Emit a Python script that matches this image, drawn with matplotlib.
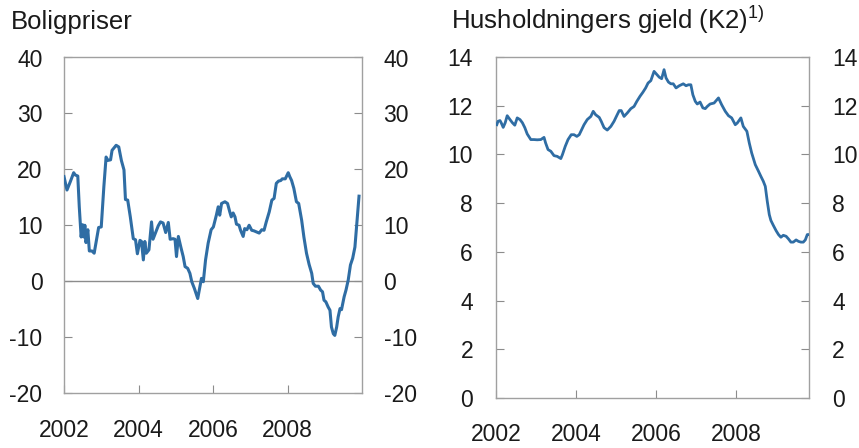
import matplotlib
matplotlib.use("Agg")
import matplotlib.pyplot as plt

plt.rcParams['font.family'] = ['Liberation Sans', 'DejaVu Sans']
plt.rcParams['axes.unicode_minus'] = False

# Boligpriser, tolvmånedersvekst (prosent)
bolig_t = [2002.00, 2002.08, 2002.17, 2002.26, 2002.30, 2002.37, 2002.41, 2002.46,
           2002.50, 2002.53, 2002.56, 2002.59, 2002.64, 2002.68, 2002.75, 2002.81,
           2002.93, 2003.00, 2003.07, 2003.13, 2003.18, 2003.25, 2003.29, 2003.40,
           2003.47, 2003.54, 2003.61, 2003.65, 2003.71, 2003.78, 2003.86, 2003.92,
           2003.97, 2004.04, 2004.08, 2004.13, 2004.17, 2004.21, 2004.28, 2004.35,
           2004.39, 2004.46, 2004.53, 2004.59, 2004.66, 2004.73, 2004.80, 2004.85,
           2004.93, 2004.98, 2005.02, 2005.07, 2005.14, 2005.20, 2005.25, 2005.32,
           2005.38, 2005.43, 2005.50, 2005.59, 2005.65, 2005.69, 2005.74, 2005.80,
           2005.87, 2005.95, 2006.01, 2006.09, 2006.14, 2006.18, 2006.23, 2006.32,
           2006.39, 2006.45, 2006.49, 2006.54, 2006.59, 2006.63, 2006.70, 2006.74,
           2006.81, 2006.85, 2006.91, 2006.97, 2007.04, 2007.10, 2007.17, 2007.24,
           2007.31, 2007.37, 2007.43, 2007.51, 2007.58, 2007.64, 2007.70, 2007.76,
           2007.82, 2007.86, 2007.94, 2008.02, 2008.06, 2008.11, 2008.17, 2008.24,
           2008.30, 2008.38, 2008.44, 2008.51, 2008.58, 2008.65, 2008.69, 2008.75,
           2008.83, 2008.89, 2008.94, 2008.98, 2009.03, 2009.09, 2009.14, 2009.18,
           2009.23, 2009.27, 2009.32, 2009.36, 2009.41, 2009.45, 2009.52, 2009.57,
           2009.63, 2009.69, 2009.75, 2009.81, 2009.86, 2009.92]
bolig_v = [18.7, 16.3, 17.8, 19.4, 19.0, 18.8, 13.3, 7.9,
           10.1, 7.9, 10.0, 6.9, 9.2, 5.4, 5.4, 5.0,
           9.6, 9.7, 16.9, 22.2, 21.6, 21.7, 23.4, 24.3,
           24.0, 21.6, 19.9, 14.6, 14.5, 11.5, 7.6, 7.4,
           4.9, 7.3, 7.1, 3.8, 7.1, 5.0, 5.6, 10.6,
           7.5, 8.7, 9.9, 10.6, 10.4, 8.7, 10.5, 7.5,
           7.6, 7.5, 4.4, 8.0, 6.0, 4.4, 2.6, 2.3,
           1.4, -0.1, -1.3, -3.1, -1.0, 0.5, -0.1, 3.8,
           6.8, 9.2, 9.7, 11.8, 13.3, 11.8, 13.9, 14.2,
           13.9, 12.4, 11.5, 12.2, 11.5, 10.2, 10.0, 9.1,
           8.0, 9.4, 9.2, 10.0, 9.1, 9.0, 8.8, 8.6,
           9.2, 9.1, 10.6, 12.4, 14.5, 14.8, 17.5, 17.9,
           18.0, 18.3, 18.3, 19.4, 18.7, 18.0, 16.6, 14.2,
           13.9, 10.9, 7.9, 5.0, 3.0, 1.4, -0.4, -0.9,
           -0.9, -1.6, -1.9, -3.4, -3.7, -4.6, -5.2, -8.2,
           -9.4, -9.7, -8.2, -6.4, -4.9, -5.1, -2.8, -1.6,
           0.2, 2.9, 4.1, 6.1, 10.3, 15.2]

# Husholdningers gjeld (K2), tolvmånedersvekst (prosent)
gjeld_t = [2002.02, 2002.05, 2002.10, 2002.13, 2002.18, 2002.23, 2002.28, 2002.35,
           2002.41, 2002.47, 2002.53, 2002.60, 2002.66, 2002.72, 2002.78, 2002.87,
           2002.95, 2003.03, 2003.12, 2003.20, 2003.24, 2003.30, 2003.37, 2003.45,
           2003.53, 2003.62, 2003.66, 2003.73, 2003.80, 2003.88, 2003.95, 2004.02,
           2004.08, 2004.13, 2004.20, 2004.28, 2004.37, 2004.43, 2004.49, 2004.58,
           2004.63, 2004.70, 2004.78, 2004.87, 2004.95, 2005.02, 2005.08, 2005.13,
           2005.20, 2005.28, 2005.37, 2005.45, 2005.52, 2005.60, 2005.67, 2005.74,
           2005.80, 2005.87, 2005.95, 2006.02, 2006.08, 2006.14, 2006.20, 2006.25,
           2006.31, 2006.37, 2006.43, 2006.50, 2006.58, 2006.68, 2006.75, 2006.81,
           2006.87, 2006.92, 2006.98, 2007.03, 2007.10, 2007.17, 2007.23, 2007.28,
           2007.35, 2007.45, 2007.56, 2007.64, 2007.73, 2007.81, 2007.89, 2007.98,
           2008.03, 2008.12, 2008.18, 2008.27, 2008.33, 2008.39, 2008.48, 2008.56,
           2008.62, 2008.68, 2008.73, 2008.78, 2008.83, 2008.87, 2008.93, 2009.00,
           2009.06, 2009.12, 2009.18, 2009.25, 2009.31, 2009.37, 2009.43, 2009.50,
           2009.56, 2009.62, 2009.68, 2009.73, 2009.78, 2009.81]
gjeld_v = [11.22, 11.36, 11.39, 11.30, 11.11, 11.30, 11.59, 11.43,
           11.30, 11.20, 11.50, 11.43, 11.30, 11.10, 10.84, 10.61,
           10.61, 10.60, 10.61, 10.70, 10.47, 10.20, 10.13, 9.95,
           9.92, 9.83, 9.99, 10.33, 10.61, 10.81, 10.81, 10.74,
           10.81, 10.98, 11.22, 11.43, 11.56, 11.77, 11.63, 11.52,
           11.36, 11.10, 11.00, 11.15, 11.36, 11.60, 11.80, 11.80,
           11.56, 11.70, 11.88, 11.97, 12.18, 12.39, 12.55, 12.73,
           12.93, 13.03, 13.41, 13.28, 13.17, 13.11, 13.48, 13.14,
           12.97, 12.90, 12.90, 12.73, 12.82, 12.90, 12.82, 12.86,
           12.86, 12.45, 12.18, 12.07, 12.15, 11.91, 11.88, 11.97,
           12.07, 12.11, 12.32, 12.04, 11.77, 11.59, 11.50, 11.22,
           11.29, 11.50, 11.15, 10.95, 10.47, 10.06, 9.58, 9.31,
           9.10, 8.90, 8.69, 8.07, 7.53, 7.29, 7.09, 6.87,
           6.71, 6.60, 6.68, 6.64, 6.53, 6.40, 6.40, 6.49,
           6.43, 6.40, 6.40, 6.49, 6.71, 6.71]

year_ticks = [2002, 2004, 2006, 2008]
year_labels = ['2002', '2004', '2006', '2008']

line_col = '#2f6da4'
grey = '#8c8c8c'
txt = '#1a1a1a'

fig = plt.figure(figsize=(8.59, 4.48), dpi=100)
ax1 = fig.add_axes([64/859, 1-393/448, 298/859, 335.5/448])
ax2 = fig.add_axes([496/859, 1-398/448, 313.3/859, 341/448])


def style(ax, xpad, ypad):
    for s in ax.spines.values():
        s.set_color('#a0a0a0')
        s.set_linewidth(1.0)
    ax.tick_params(axis='y', which='both', direction='in', length=6, width=0.8,
                   color=grey, left=True, right=True, labelleft=True,
                   labelright=True, labelsize=16.5, labelcolor=txt, pad=ypad)
    ax.tick_params(axis='x', direction='in', length=5.5, width=0.8, color=grey,
                   labelsize=16.5, labelcolor=txt, pad=xpad, top=False)
    ax.set_xticks(year_ticks)
    ax.set_xticklabels(year_labels)


ax1.axhline(0, color=grey, lw=1.0, zorder=1)
ax1.plot(bolig_t, bolig_v, color=line_col, lw=2.2, zorder=3)
ax1.set_xlim(2002, 2010)
ax1.set_ylim(-20, 40)
ax1.set_yticks(range(-20, 41, 10))
style(ax1, 19, 15.5)

ax2.plot(gjeld_t, gjeld_v, color=line_col, lw=2.0, zorder=3)
ax2.set_xlim(2002, 2009.83)
ax2.set_ylim(0, 14)
ax2.set_yticks(range(0, 15, 2))
style(ax2, 18, 16.5)

fig.text(11/859, 1-29/448, 'Boligpriser', fontsize=18.5, color=txt, va='baseline')
fig.text(451/859, 1-29/448, r'Husholdningers gjeld (K2)$^{\mathregular{1)}}$',
         fontsize=18.5, color=txt, va='baseline')

fig.savefig('out.png', dpi=100)
